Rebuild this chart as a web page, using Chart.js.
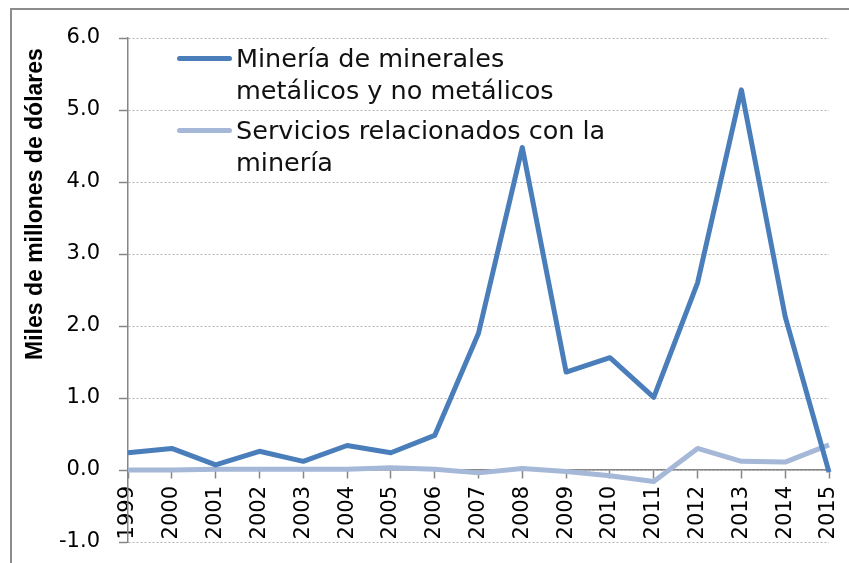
<!DOCTYPE html>
<html lang="es">
<head>
<meta charset="utf-8">
<title>Minería</title>
<script src="https://cdn.jsdelivr.net/npm/chart.js@4/dist/chart.umd.min.js"></script>
<style>
  html, body { margin: 0; padding: 0; background: #ffffff; }
  #wrap { position: relative; width: 849px; height: 563px; overflow: hidden; }
  #frame {
    position: absolute; left: 10px; top: 8px; width: 900px; height: 600px;
    border-left: 2px solid #8c8c8c; border-top: 2px solid #8c8c8c;
    pointer-events: none;
  }
  #yTitle {
    position: absolute; left: 20px; top: 360px; white-space: nowrap;
    transform-origin: 0 0; transform: rotate(-90deg);
    font-family: "Liberation Sans", sans-serif; font-weight: bold; font-size: 23px; line-height: 28px; color: #000;
  }
  #legend {
    position: absolute; left: 177px; top: 42px;
    font-family: "DejaVu Sans", sans-serif; font-size: 25.5px; line-height: 32px; color: #111;
  }
  .legend-item { position: relative; padding-left: 59px; margin-bottom: 8px; }
  .legend-swatch { position: absolute; left: 0; top: 14px; width: 55px; height: 5px; border-radius: 3px; }
</style>
</head>
<body>
<div id="wrap">
  <canvas id="chart"></canvas>
  <div id="frame"></div>
  <div id="yTitle"></div>
  <div id="legend"></div>
</div>
<script>
const years = ['1999', '2000', '2001', '2002', '2003', '2004', '2005', '2006', '2007',
  '2008', '2009', '2010', '2011', '2012', '2013', '2014', '2015'];
const mineria = [0.24, 0.30, 0.07, 0.26, 0.12, 0.34, 0.24, 0.48, 1.90,
  4.48, 1.36, 1.56, 1.01, 2.60, 5.28, 2.13, -0.03];
const servicios = [0.00, 0.00, 0.01, 0.01, 0.01, 0.01, 0.03, 0.01, -0.04,
  0.02, -0.02, -0.08, -0.16, 0.30, 0.12, 0.11, 0.35];
const seriesNames = [
  ['Minería de minerales', 'metálicos y no metálicos'],
  ['Servicios relacionados con la', 'minería'],
];
const seriesColors = ['#4a7ebb', '#a5b8d8'];
const yTitle = 'Miles de millones de dólares';

const axisColor = '#868686';
const gridColor = '#b4b4b4';

function renderLegend() {
  const legend = document.getElementById('legend');
  legend.innerHTML = seriesNames.map((lines, i) => `
    <div class="legend-item">
      <div class="legend-swatch" style="background:${seriesColors[i]}"></div>
      ${lines.map((line) => `<div>${line}</div>`).join('')}
    </div>
  `).join('');
  document.getElementById('yTitle').textContent = yTitle;
}

function lineDataset(name, values, color) {
  return {
    label: name,
    data: values,
    borderColor: color,
    backgroundColor: color,
    borderWidth: 5,
    borderJoinStyle: 'round',
    pointRadius: 0,
    tension: 0,
    clip: false,
  };
}

const chart = new Chart(document.getElementById('chart'), {
  type: 'line',
  data: {
    labels: years,
    datasets: [
      lineDataset(seriesNames[0].join(' '), mineria, seriesColors[0]),
      lineDataset(seriesNames[1].join(' '), servicios, seriesColors[1]),
    ],
  },
  options: {
    responsive: true,
    maintainAspectRatio: false,
    animation: false,
    layout: { padding: { left: 0, right: 20, top: 38, bottom: 21 } },
    plugins: { legend: { display: false }, tooltip: { enabled: false } },
    scales: {
      x: {
        position: { y: 0 },
        offset: false,
        // labels hang inside the plot, so they should not push the edges in
        afterFit: (scale) => { scale.paddingLeft = 0; scale.paddingRight = 0; },
        grid: {
          drawOnChartArea: false,
          drawTicks: true,
          tickLength: 8,
          tickColor: axisColor,
          tickWidth: 1.5,
        },
        border: { display: true, color: axisColor, width: 1.5 },
        ticks: {
          minRotation: 90,
          maxRotation: 90,
          autoSkip: false,
          padding: 8,
          color: '#000',
          font: { family: 'DejaVu Sans', size: 21 },
        },
      },
      y: {
        min: -1,
        max: 6,
        afterFit: (scale) => {
          scale.width = 128;
          scale.paddingTop = 0;
          scale.paddingBottom = 0;
        },
        grid: {
          color: gridColor,
          lineWidth: 1,
          drawTicks: true,
          tickLength: 9,
          tickColor: axisColor,
          tickWidth: 1.5,
          tickBorderDash: [],
        },
        border: { display: true, color: axisColor, width: 1.5, dash: [2, 2] },
        ticks: {
          stepSize: 1,
          padding: 19,
          color: '#000',
          font: { family: 'DejaVu Sans', size: 21 },
          callback: (value) => Number(value).toFixed(1),
        },
      },
    },
  },
});

renderLegend();
</script>
</body>
</html>
